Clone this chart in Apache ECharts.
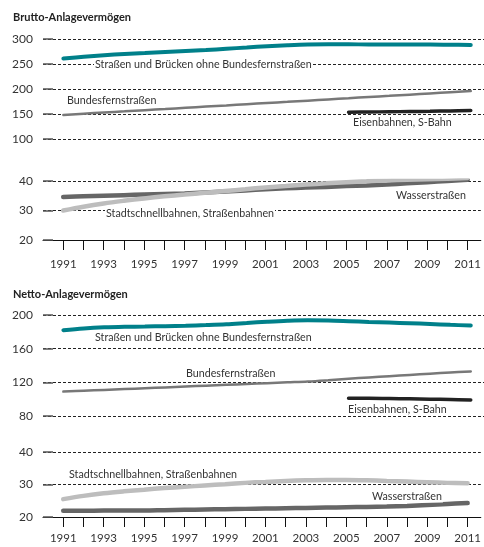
<!DOCTYPE html>
<html>
<head>
<meta charset="utf-8">
<script src="https://cdn.jsdelivr.net/npm/echarts@6/dist/echarts.min.js"></script>
<style>
html,body{margin:0;padding:0;background:#fff;}
#c{width:484px;height:547px;}
</style>
</head>
<body>
<div id="c"></div>
<script>
// ---- data ----
var years = [1991,1992,1993,1994,1995,1996,1997,1998,1999,2000,2001,2002,2003,2004,2005,2006,2007,2008,2009,2010,2011];
var yearTickValues = [1991,1992,1993,1994,1995,1996,1997,1998,1999,2000,2001,2002,2003,2004,2005,2006,2007,2008,2009,2010,2011];
var yearLabelValues = [1991,1993,1995,1997,1999,2001,2003,2005,2007,2009,2011];
var eisenYears = [2005,2006,2007,2008,2009,2010,2011];

var bruttoStrassen = [261,264.5,267.5,270,272,274,276,278,280.5,283,285.5,287.5,289,289.5,289.5,289,289,289,289,288.5,288];
var bruttoBundes   = [148,150.5,153,155.3,157.7,160,162.4,164.8,167.1,169.5,172,174.3,176.7,179.1,181.5,184,186.3,188.7,191.1,193.5,196];
var bruttoEisen    = [153.5,154,154.5,155,155.5,156.2,157];
var bruttoWasser   = [34.6,34.8,35.0,35.2,35.4,35.6,35.8,36.1,36.4,36.8,37.2,37.5,37.8,38.0,38.3,38.5,38.8,39.2,39.6,40.0,40.4];
var bruttoStadt    = [30,31.3,32.4,33.3,34.1,34.8,35.4,36,36.6,37.2,37.8,38.3,38.8,39.2,39.6,39.9,40.2,40.4,40.6,40.8,41];

var nettoStrassen = [182,184,185.3,186,186.3,186.7,187.2,188,189,190.5,192,193.2,193.8,193.5,192.7,191.8,191,190.2,189.3,188.3,187.5];
var nettoBundes   = [109,110,111,112,113,114,115,116,117,118,119,120,121,122.5,124.2,125.8,127.3,128.8,130.3,131.7,133];
var nettoEisen    = [101,101,100.7,100.4,100,99.5,99];
var nettoStadt    = [25.5,26.5,27.3,27.9,28.4,28.9,29.3,29.7,30.1,30.5,30.8,31.1,31.3,31.4,31.4,31.3,31.1,30.9,30.7,30.5,30.4];
var nettoWasser   = [21.9,21.9,22,22,22,22.1,22.2,22.3,22.4,22.5,22.6,22.7,22.8,22.9,23.0,23.1,23.2,23.4,23.7,24.0,24.3];

// ---- helpers ----
function pairs(xs, vs){ return xs.map(function(x,i){ return [x, vs[i]]; }); }

var FONT = 'Lato, "Noto Sans", sans-serif';
var TEAL = '#00808a', MID = '#787878', BLACK = '#222', DARK = '#666', LIGHT = '#bdbdbd';

function xAxis(gi, show, margin){
  return {
    type:'value', gridIndex:gi, min:1990, max:2011.65,
    show: show,
    axisLine:{show:true, lineStyle:{color:'#111', width:1}},
    axisTick:{show:true, length:10, customValues:yearTickValues, lineStyle:{color:'#111', width:1}},
    axisLabel:{show:true, customValues:yearLabelValues, margin:margin, color:'#333', fontSize:11.5, fontFamily:FONT,
      formatter:function(v){ return String(v); }},
    splitLine:{show:false}
  };
}
function yAxis(gi, min, max, interval){
  return {
    type:'value', gridIndex:gi, min:min, max:max, interval:interval,
    axisLine:{show:false},
    axisTick:{show:true, inside:true, length:10, lineStyle:{color:'#555', width:1.5}},
    axisLabel:{margin:10, color:'#333', fontSize:12, fontFamily:FONT},
    splitLine:{show:true, lineStyle:{color:'#222', width:1, type:[3,2]}}
  };
}
function line(xi, data, color, width, z){
  return {type:'line', xAxisIndex:xi, yAxisIndex:xi, data:data, showSymbol:false, smooth:0.35,
    lineStyle:{color:color, width:width, cap:'round'}, z:z||2, silent:true, animation:false};
}
function label(text, x, y){
  return {type:'text', z:50, style:{text:text, x:x, y:y, fill:'#333', font:'10.7px ' + FONT,
    verticalAlign:'middle', backgroundColor:'#fff', padding:[0,1]}};
}
function title(text, x, y){
  return {type:'text', z:50, style:{text:text, x:x, y:y, fill:'#222', font:'bold 11px ' + FONT, verticalAlign:'middle'}};
}

var chart = echarts.init(document.getElementById('c'), null, {renderer:'canvas'});
chart.setOption({
  animation:false,
  backgroundColor:'#fff',
  grid:[
    {left:43, right:0, top:39, height:100},
    {left:43, right:0, top:181, height:59},
    {left:43, right:0, top:315, height:101},
    {left:43, right:0, top:452, height:65}
  ],
  xAxis:[ xAxis(0,false,18), xAxis(1,true,18), xAxis(2,false,15), xAxis(3,true,15) ],
  yAxis:[ yAxis(0,100,300,50), yAxis(1,20,40,10), yAxis(2,80,200,40), yAxis(3,20,40,10) ],
  series:[
    line(0, pairs(years, bruttoStrassen), TEAL, 4),
    line(0, pairs(years, bruttoBundes), MID, 2.5),
    line(0, pairs(eisenYears, bruttoEisen), BLACK, 3.5),
    line(1, pairs(years, bruttoWasser), DARK, 4.5),
    line(1, pairs(years, bruttoStadt), LIGHT, 4.5, 3),
    line(2, pairs(years, nettoStrassen), TEAL, 4),
    line(2, pairs(years, nettoBundes), MID, 2.5),
    line(2, pairs(eisenYears, nettoEisen), BLACK, 3.5),
    line(3, pairs(years, nettoStadt), LIGHT, 4.5),
    line(3, pairs(years, nettoWasser), DARK, 4.5)
  ],
  graphic:[
    title('Brutto-Anlagevermögen', 13, 17),
    title('Netto-Anlagevermögen', 13, 294),
    label('Straßen und Brücken ohne Bundesfernstraßen', 94, 65),
    label('Bundesfernstraßen', 66, 101),
    label('Eisenbahnen, S-Bahn', 352, 123),
    label('Wasserstraßen', 395, 196),
    label('Stadtschnellbahnen, Straßenbahnen', 105, 214),
    label('Straßen und Brücken ohne Bundesfernstraßen', 94, 338),
    label('Bundesfernstraßen', 185, 374),
    label('Eisenbahnen, S-Bahn', 347, 410),
    label('Stadtschnellbahnen, Straßenbahnen', 68, 475),
    label('Wasserstraßen', 371, 497)
  ]
});
</script>
</body>
</html>
